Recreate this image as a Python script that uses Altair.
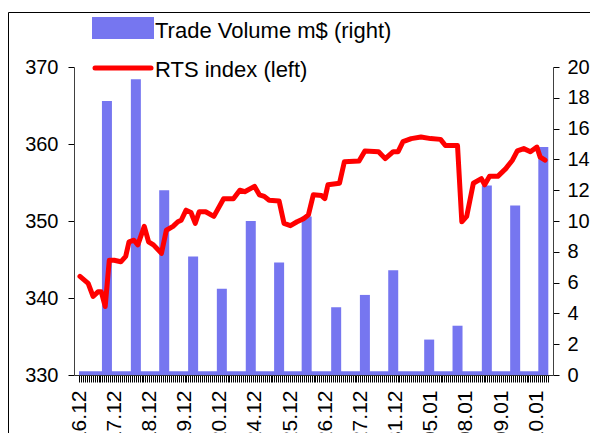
import altair as alt
import pandas as pd

# ---------------- data ----------------
day_labels = ["16.12", "17.12", "18.12", "19.12", "20.12", "24.12", "25.12",
              "26.12", "27.12", "31.12", "05.01", "08.01", "09.01", "10.01"]
label_step = 18          # category slots between date labels
n_slots = 240            # intraday category slots on the x axis

# Trade volume (m$), right axis
vol_slot = [14.3, 29.1, 43.6, 58.4, 73.1, 87.9, 102.4, 116.5, 131.6, 146.3,
            160.8, 179.2, 193.7, 208.7, 223.2, 237.6]
vol_value = [17.8, 19.2, 12.0, 7.7, 5.6, 10.0, 7.3, 10.3, 4.4, 5.2,
             6.8, 2.3, 3.2, 12.3, 11.0, 14.8]
vol_floor = 0.25         # small volume present at every slot

# RTS index, left axis
rts_slot = [0.5, 4.7, 7.2, 9.7, 11.4, 13.4, 15.5, 18.0, 21.4, 23.9,
            25.6, 28.1, 30.1, 33.4, 35.6, 38.1, 42.2, 44.7, 48.1, 50.6,
            52.3, 54.8, 57.3, 59.5, 61.5, 64.8, 69.0, 74.0, 79.0, 82.3,
            84.8, 89.8, 92.3, 94.8, 97.3, 102.4, 104.9, 108.2, 111.6, 114.9,
            117.4, 119.9, 124.1, 125.8, 127.4, 133.3, 135.8, 143.3, 146.3, 153.3,
            156.7, 160.8, 163.3, 165.8, 170.0, 175.0, 180.0, 185.0, 187.5, 193.7,
            195.9, 198.4, 201.8, 205.9, 207.6, 210.1, 214.3, 218.4, 221.8, 224.3,
            227.6, 231.0, 234.3, 236.0, 238.5]
rts_value = [342.8, 341.9, 340.2, 340.8, 340.8, 338.9, 344.9, 344.9, 344.7, 345.4,
             347.3, 347.5, 346.9, 349.3, 347.3, 346.9, 345.8, 348.8, 349.3, 349.9,
             350.1, 351.4, 351.1, 349.7, 351.2, 351.2, 350.6, 352.9, 352.9, 354.0,
             353.8, 354.5, 353.4, 353.2, 352.7, 352.6, 349.7, 349.4, 349.9, 350.3,
             350.8, 353.4, 353.3, 352.9, 354.7, 354.9, 357.7, 357.8, 359.1, 359.0,
             358.1, 359.0, 359.0, 360.3, 360.7, 360.9, 360.7, 360.6, 359.8, 359.8,
             349.9, 350.6, 354.9, 355.5, 354.7, 355.8, 355.8, 356.8, 357.9, 359.1,
             359.4, 359.0, 359.6, 358.3, 357.9]

legend_bar_text = "Trade Volume m$ (right)"
legend_line_text = "RTS index (left)"

# ---------------- tables ----------------
vol_df = pd.DataFrame({"slot": vol_slot, "volume": vol_value})
floor_df = pd.DataFrame({"start": [0], "end": [n_slots], "lo": [0], "hi": [vol_floor]})
rts_df = pd.DataFrame({"slot": rts_slot, "rts": rts_value})

FONT = "Liberation Sans"
BAR_COLOR = "#7676f0"
LINE_COLOR = "#ff0000"
FS = 20

label_array = "[" + ",".join("'" + d + "'" for d in day_labels) + "]"
x_scale = alt.Scale(domain=[0, n_slots], nice=False, zero=False)
x_axis = alt.Axis(
    values=list(range(n_slots + 1)),
    labelExpr=f"datum.value % {label_step} == 0 ? {label_array}[datum.value / {label_step}] : ''",
    labelAngle=-90, labelAlign="right", labelBaseline="middle",
    labelOverlap=False, labelBound=False, labelFlush=False,
    labelPadding=8, tickSize=7, tickColor="#000000", tickWidth=1,
    domainColor="#303030", title=None, grid=False, labelFontSize=21,
)

right_scale = alt.Scale(domain=[0, 20], nice=False, zero=True)
right_axis = alt.Axis(orient="right", values=list(range(0, 21, 2)), tickSize=6,
                      labelPadding=8, tickColor="#000000", domainColor="#404040",
                      title=None, grid=False)
left_scale = alt.Scale(domain=[330, 370], nice=False, zero=False)
left_axis = alt.Axis(orient="left", values=[330, 340, 350, 360, 370], tickSize=6,
                     labelPadding=10, tickColor="#000000", domainColor="#404040",
                     title=None, grid=False)

floor = alt.Chart(floor_df).mark_rect(color=BAR_COLOR).encode(
    x=alt.X("start:Q", scale=x_scale, axis=x_axis),
    x2="end:Q",
    y=alt.Y("lo:Q", scale=right_scale, axis=right_axis),
    y2="hi:Q",
)
bars = alt.Chart(vol_df).mark_bar(color=BAR_COLOR, size=10).encode(
    x=alt.X("slot:Q", scale=x_scale, axis=x_axis),
    y=alt.Y("volume:Q", scale=right_scale, axis=right_axis),
)
vol_layer = alt.layer(floor, bars)

line = alt.Chart(rts_df).mark_line(color=LINE_COLOR, strokeWidth=5,
                                   strokeJoin="round", strokeCap="round").encode(
    x=alt.X("slot:Q", scale=x_scale, axis=x_axis),
    y=alt.Y("rts:Q", scale=left_scale, axis=left_axis),
)

one = alt.Data(values=[{"k": 1}])
frame = alt.Chart(one).mark_rect(fill=None, stroke="#000000", strokeWidth=1).encode(
    x=alt.value(-65.5), x2=alt.value(700), y=alt.value(-54.5), y2=alt.value(600)
)
leg_swatch = alt.Chart(one).mark_rect(color=BAR_COLOR).encode(
    x=alt.value(18), x2=alt.value(80), y=alt.value(-50), y2=alt.value(-28)
)
leg_line = alt.Chart(one).mark_rule(color=LINE_COLOR, strokeWidth=5, strokeCap="round").encode(
    x=alt.value(21), x2=alt.value(77), y=alt.value(1)
)
leg_text1 = alt.Chart(one).mark_text(align="left", baseline="alphabetic", font=FONT,
                                     fontSize=22, color="#000000").encode(
    x=alt.value(81), y=alt.value(-29), text=alt.value(legend_bar_text)
)
leg_text2 = alt.Chart(one).mark_text(align="left", baseline="alphabetic", font=FONT,
                                     fontSize=22, color="#000000").encode(
    x=alt.value(81), y=alt.value(10), text=alt.value(legend_line_text)
)

chart = alt.layer(
    vol_layer, line, frame, leg_swatch, leg_line, leg_text1, leg_text2
).resolve_scale(y="independent").properties(
    width=479, height=308,
    autosize=alt.AutoSizeParams(type="none"),
    padding={"left": 66, "top": 59, "right": 37, "bottom": 58},
    background="#ffffff",
).configure_view(stroke=None).configure_axis(
    labelFont=FONT, labelFontSize=FS, labelColor="#000000",
)

chart.save("out.html", embed_options={"renderer": "svg", "actions": False})
